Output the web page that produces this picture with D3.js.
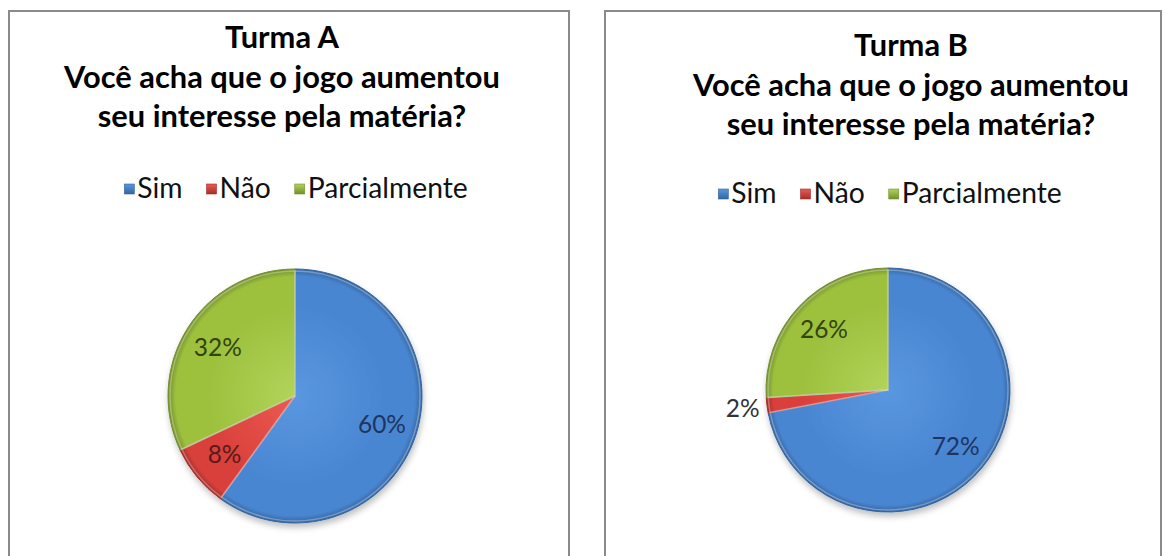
<!DOCTYPE html>
<html>
<head>
<meta charset="utf-8">
<script src="https://cdn.jsdelivr.net/npm/d3@7"></script>
<style>
  html, body { margin: 0; padding: 0; background: #fff; }
  svg { display: block; }
</style>
</head>
<body>
<svg id="chart" width="1166" height="556"></svg>
<script>
// ---- data ----
const categories = ["Sim", "Não", "Parcialmente"];
const turmaA = [60, 8, 32];
const turmaB = [72, 2, 26];
const panelTitles = ["Turma A", "Turma B"];
const questionLines = ["Você acha que o jogo aumentou", "seu interesse pela matéria?"];

// ---- styles / layout ----
const baseColors = ["#4a86d2", "#d9413b", "#9dc03e"];
const lightColors = ["#5a97e0", "#ec5a53", "#b1d45a"];
const darkColors = ["#34659f", "#a42e2a", "#728f2c"];
const labelColors = ["#1f3560", "#5a1a18", "#34430f"];

const panels = [
  { values: turmaA, title: panelTitles[0], box: [9, 11, 560], titleX: 282, titleY: [48, 87.5, 127],
    legendCX: 296, legendY: 188, cx: 295, cy: 396, r: 127 },
  { values: turmaB, title: panelTitles[1], box: [605, 11, 556], titleX: 911, titleY: [56, 95.5, 135],
    legendCX: 890, legendY: 193, cx: 888, cy: 390, r: 122 }
];

const svg = d3.select("#chart");
const defs = svg.append("defs");

const shadow = defs.append("filter").attr("id", "shadow")
  .attr("x", "-20%").attr("y", "-20%").attr("width", "140%").attr("height", "140%");
shadow.append("feDropShadow").attr("dx", 1).attr("dy", 4).attr("stdDeviation", 3)
  .attr("flood-color", "#000").attr("flood-opacity", 0.25);

panels.forEach((p, pi) => {
  categories.forEach((c, i) => {
    const g = defs.append("radialGradient").attr("id", `grad${pi}_${i}`)
      .attr("gradientUnits", "userSpaceOnUse")
      .attr("cx", 0).attr("cy", 0).attr("r", p.r);
    g.append("stop").attr("offset", "0%").attr("stop-color", lightColors[i]);
    g.append("stop").attr("offset", "70%").attr("stop-color", baseColors[i]);
    g.append("stop").attr("offset", "94%").attr("stop-color", baseColors[i]);
    g.append("stop").attr("offset", "100%").attr("stop-color", darkColors[i]);
  });
});
categories.forEach((c, i) => {
  const g = defs.append("linearGradient").attr("id", `leg${i}`)
    .attr("x1", 0).attr("y1", 0).attr("x2", 0).attr("y2", 1);
  g.append("stop").attr("offset", "0%").attr("stop-color", lightColors[i]);
  g.append("stop").attr("offset", "100%").attr("stop-color", darkColors[i]);
});

// font fitting helper
function fitSize(text, family, weight, targetWidth) {
  const t = svg.append("text").attr("font-family", family).attr("font-weight", weight)
    .attr("font-size", 100).text(text);
  const w = t.node().getComputedTextLength();
  t.remove();
  return 100 * targetWidth / w;
}
const titleFont = "Lato, 'Open Sans', sans-serif";
const titleSize = fitSize(questionLines[0], titleFont, "bold", 436);
const legendSize = fitSize("Parcialmente", titleFont, "normal", 160);
const labelSize = fitSize("60%", titleFont, "normal", 48);

panels.forEach((p, pi) => {
  const g = svg.append("g");
  // panel border
  g.append("rect").attr("x", p.box[0]).attr("y", p.box[1])
    .attr("width", p.box[2]).attr("height", 600)
    .attr("fill", "#fff").attr("stroke", "#8a8a8a").attr("stroke-width", 2);

  // title
  const tl = [p.title, ...questionLines];
  tl.forEach((line, li) => {
    g.append("text").attr("x", p.titleX).attr("y", p.titleY[li])
      .attr("text-anchor", "middle").attr("font-family", titleFont)
      .attr("font-weight", "bold").attr("font-size", titleSize)
      .attr("fill", "#000").text(line);
  });

  // legend
  const sq = 10, gapSq = 3, gapItem = 24;
  const widths = categories.map(c => {
    const t = svg.append("text").attr("font-family", titleFont)
      .attr("font-size", legendSize).text(c);
    const w = t.node().getComputedTextLength(); t.remove(); return w;
  });
  const total = d3.sum(widths) + categories.length * (sq + gapSq) + (categories.length - 1) * gapItem;
  let x = p.legendCX - total / 2;
  const lg = g.append("g");
  categories.forEach((c, i) => {
    lg.append("rect").attr("x", x).attr("y", p.legendY - sq / 2 + 1)
      .attr("width", sq).attr("height", sq)
      .attr("fill", `url(#leg${i})`).attr("stroke", darkColors[i]).attr("stroke-width", 0.6);
    lg.append("text").attr("x", x + sq + gapSq).attr("y", p.legendY)
      .attr("dy", "0.35em").attr("font-family", titleFont)
      .attr("font-size", legendSize).attr("fill", "#111").text(c);
    x += sq + gapSq + widths[i] + gapItem;
  });

  // pie
  const data = p.values.map((v, i) => ({ cat: categories[i], value: v, i }));
  const pie = d3.pie().value(d => d.value).sort(null);
  const arcs = pie(data);
  const arc = d3.arc().innerRadius(0).outerRadius(p.r);
  const pg = g.append("g").attr("transform", `translate(${p.cx},${p.cy})`);
  pg.append("g").attr("filter", "url(#shadow)")
    .selectAll("path").data(arcs).join("path")
    .attr("d", arc)
    .attr("fill", d => `url(#grad${pi}_${d.data.i})`)
    .attr("stroke", d => darkColors[d.data.i])
    .attr("stroke-width", 1)
    .attr("stroke-linejoin", "round");
  // highlight edges (bevel impression)
  pg.append("g").selectAll("path").data(arcs).join("path")
    .attr("d", d3.arc().innerRadius(0).outerRadius(p.r - 2))
    .attr("fill", "none")
    .attr("stroke", "#fff").attr("stroke-opacity", 0.3).attr("stroke-width", 1.5);

  // labels
  const inner = d3.arc().innerRadius(p.r * 0.72).outerRadius(p.r * 0.72);
  const outer = d3.arc().innerRadius(p.r * 1.2).outerRadius(p.r * 1.2);
  pg.selectAll("text.lbl").data(arcs).join("text")
    .attr("class", "lbl")
    .attr("transform", d => {
      const c = d.data.value < 5 ? outer.centroid(d) : inner.centroid(d);
      return `translate(${c[0]},${c[1]})`;
    })
    .attr("text-anchor", "middle").attr("dy", "0.35em")
    .attr("font-family", titleFont).attr("font-size", labelSize)
    .attr("fill", d => d.data.value < 5 ? "#333" : labelColors[d.data.i])
    .text(d => d.data.value + "%");
});
</script>
</body>
</html>
